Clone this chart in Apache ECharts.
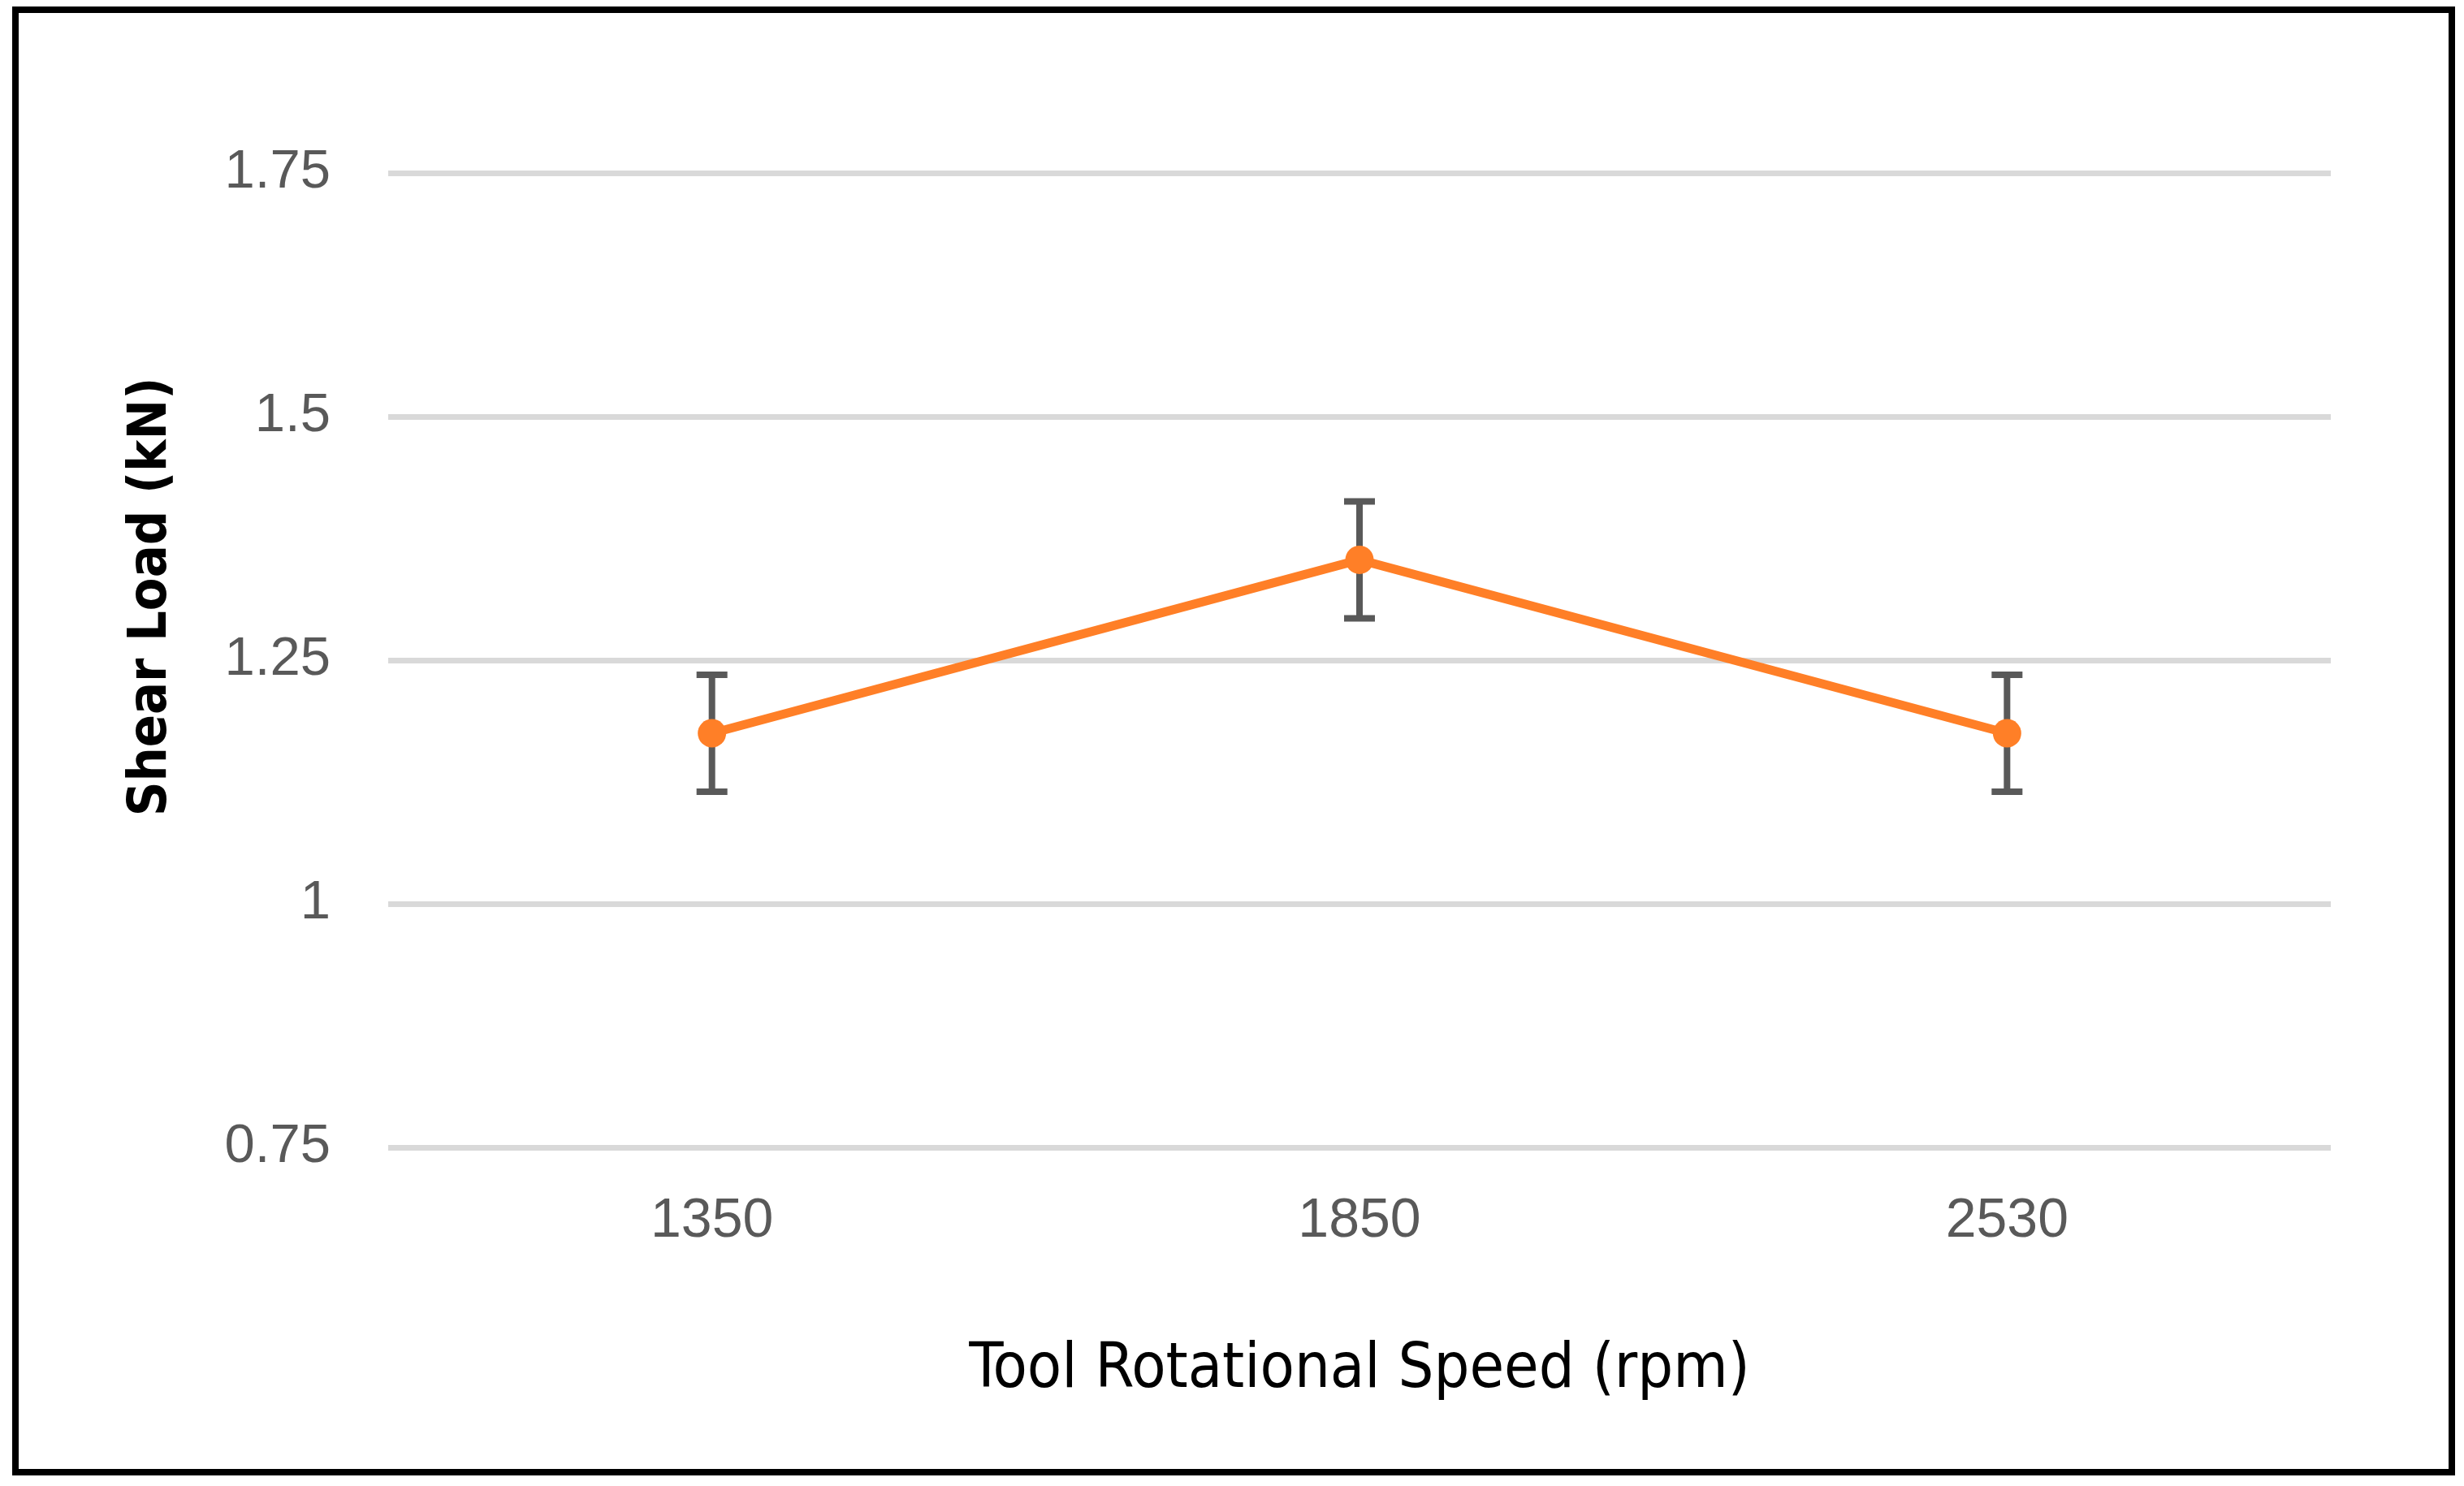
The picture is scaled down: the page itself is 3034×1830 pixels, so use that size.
<!DOCTYPE html>
<html>
<head>
<meta charset="utf-8">
<script src="https://cdn.jsdelivr.net/npm/echarts@6/dist/echarts.min.js"></script>
<style>
html,body{margin:0;padding:0;background:#fff;}
#chart{width:3034px;height:1830px;}
</style>
</head>
<body>
<div id="chart"></div>
<script>
const categories = ['1350', '1850', '2530'];
const shearLoad = [1.175, 1.353, 1.175];
const errorUp = [0.06, 0.06, 0.06];
const errorDown = [0.06, 0.06, 0.06];
const yTicks = [0.75, 1, 1.25, 1.5, 1.75];

const errData = categories.map((c, i) => [i, shearLoad[i] - errorDown[i], shearLoad[i] + errorUp[i]]);

const chart = echarts.init(document.getElementById('chart'), null, {renderer: 'canvas'});
chart.setOption({
  animation: false,
  backgroundColor: '#ffffff',
  grid: {left: 478, right: 164, top: 213, bottom: 417, containLabel: false},
  xAxis: {
    type: 'category',
    data: categories,
    boundaryGap: true,
    axisLine: {show: false},
    axisTick: {show: false},
    axisLabel: {margin: 57, fontSize: 68, color: '#595959', fontFamily: 'Liberation Sans, Arial, sans-serif'},
    name: 'Tool Rotational Speed (rpm)',
    nameLocation: 'middle',
    nameGap: 236,
    nameTextStyle: {fontSize: 77, color: '#000000', fontFamily: "'DejaVu Sans Condensed', sans-serif"}
  },
  yAxis: {
    type: 'value',
    min: yTicks[0],
    max: yTicks[yTicks.length - 1],
    interval: 0.25,
    axisLine: {show: false},
    axisTick: {show: false},
    splitLine: {show: true, lineStyle: {color: '#d9d9d9', width: 7}},
    axisLabel: {margin: 71, fontSize: 67, color: '#595959', fontFamily: 'Liberation Sans, Arial, sans-serif'},
    name: 'Shear Load (kN)',
    nameLocation: 'middle',
    nameGap: 258,
    nameTextStyle: {fontSize: 66, fontWeight: 'bold', color: '#000000', fontFamily: "'DejaVu Sans Condensed', 'DejaVu Sans', sans-serif", padding: [0, 0, 0, 156]}
  },
  graphic: [{
    type: 'rect',
    shape: {x: 19, y: 12, width: 3000, height: 1801},
    style: {fill: 'none', stroke: '#000000', lineWidth: 8},
    silent: true, z: 100
  }],
  series: [
    {
      type: 'custom',
      z: 1,
      data: errData,
      renderItem: function (params, api) {
        const x = api.value(0);
        const lo = api.coord([x, api.value(1)]);
        const hi = api.coord([x, api.value(2)]);
        const hw = 19;
        const st = {stroke: '#595959', lineWidth: 8, fill: 'none'};
        return {
          type: 'group',
          children: [
            {type: 'line', shape: {x1: lo[0], y1: lo[1], x2: hi[0], y2: hi[1]}, style: st},
            {type: 'line', shape: {x1: hi[0] - hw, y1: hi[1], x2: hi[0] + hw, y2: hi[1]}, style: st},
            {type: 'line', shape: {x1: lo[0] - hw, y1: lo[1], x2: lo[0] + hw, y2: lo[1]}, style: st}
          ]
        };
      }
    },
    {
      type: 'line',
      z: 5,
      data: shearLoad,
      symbol: 'circle',
      symbolSize: 35,
      lineStyle: {color: '#ff7f27', width: 11},
      itemStyle: {color: '#ff7f27'}
    }
  ]
});
</script>
</body>
</html>
